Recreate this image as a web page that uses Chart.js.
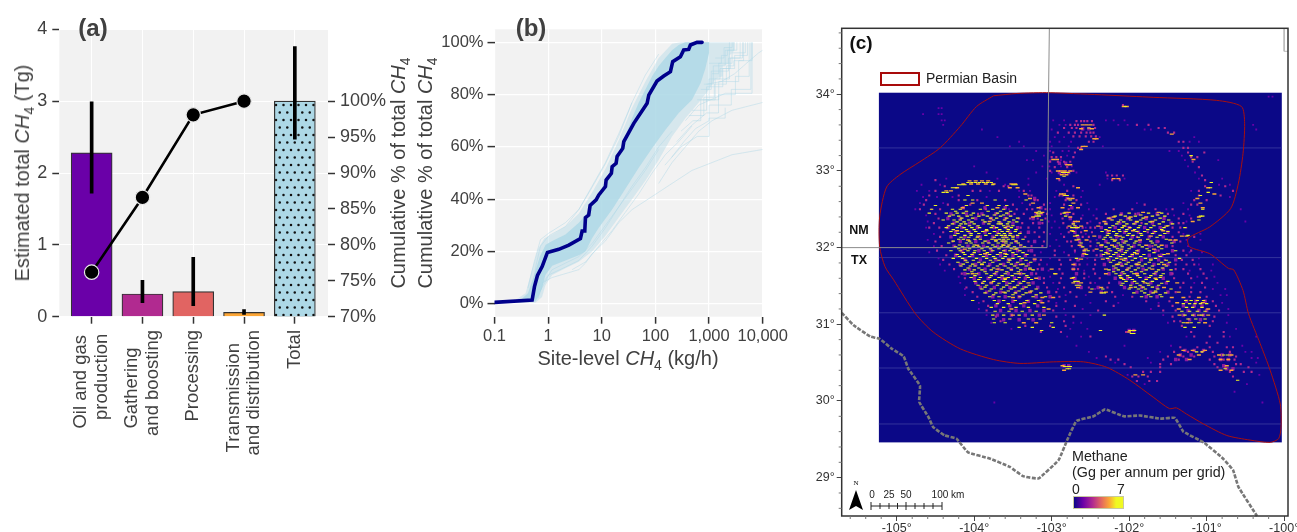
<!DOCTYPE html>
<html>
<head>
<meta charset="utf-8">
<title>Permian methane</title>
<script src="https://cdn.jsdelivr.net/npm/chart.js@4"></script>
<style>
  body { margin: 0; background: #fff; font-family: "Liberation Sans", Arial, sans-serif; }
  #page { position: relative; width: 1297px; height: 532px; overflow: hidden; }
  canvas { position: absolute; }
  .t { position: absolute; white-space: nowrap; line-height: 1; }
  .mid { transform: translate(-50%, -50%); }
  .up { transform: translate(-50%, -50%) rotate(-90deg); }
  sub { font-size: .7em; line-height: 0; }
  .ax { font-size: 20px; color: #404040; }
  .tag { font-weight: bold; color: #404040; }
</style>
</head>
<body>
<div id="page">
  <canvas id="chartA" width="400" height="470" style="left:0;top:0"></canvas>
  <canvas id="chartB" width="415" height="350" style="left:385px;top:0"></canvas>
  <canvas id="chartC" width="510" height="532" style="left:810px;top:0"></canvas>

  <div class="t tag mid" style="left:93px;top:28px;font-size:24px">(a)</div>
  <div class="t ax up" style="left:22px;top:173px">Estimated total <i>CH</i><sub>4</sub> (Tg)</div>
  <div class="t ax up" style="left:398px;top:173px">Cumulative % of total <i>CH</i><sub>4</sub></div>

  <div class="t tag mid" style="left:531px;top:28px;font-size:24px">(b)</div>
  <div class="t ax up" style="left:425px;top:173px">Cumulative % of total <i>CH</i><sub>4</sub></div>
  <div class="t ax mid" style="left:628px;top:358px">Site-level <i>CH</i><sub>4</sub> (kg/h)</div>

  <div class="t tag mid" style="left:861px;top:42px;font-size:19px;color:#111">(c)</div>
  <div style="position:absolute;left:880px;top:72px;width:36px;height:10px;border:2.5px solid #a80a0a"></div>
  <div class="t" style="left:926px;top:71px;font-size:14px;color:#222">Permian Basin</div>
  <div class="t tag mid" style="left:859px;top:230px;font-size:12.5px;color:#111">NM</div>
  <div class="t tag mid" style="left:859px;top:260px;font-size:12.5px;color:#111">TX</div>
  <div class="t" style="left:1072px;top:449px;font-size:14.3px;color:#222">Methane</div>
  <div class="t" style="left:1072px;top:465px;font-size:14.3px;color:#222">(Gg per annum per grid)</div>
  <div class="t mid" style="left:1076px;top:489px;font-size:14px;color:#222">0</div>
  <div class="t mid" style="left:1121px;top:489px;font-size:14px;color:#222">7</div>
  <div style="position:absolute;left:1073px;top:496px;width:49px;height:11px;border:1px solid #c8c8a0;background:linear-gradient(90deg,#0d0887 0%,#6a00a8 18%,#b12a90 38%,#e16462 55%,#fca636 72%,#f0f921 86%)"></div>

  <svg style="position:absolute;left:845px;top:478px" width="110" height="36">
    <path d="M11 12 L18 32 L11 28 L4 32 Z" fill="#000"/>
    <g stroke="#222" stroke-width="1" fill="none">
      <path d="M26 28 H97"/>
      <path d="M26 24V32 M35 25V31 M44 25V31 M52.500 25V31 M61 24V32 M70 25V31 M79 25V31 M88 25V31 M97 24V32"/>
    </g>
  </svg>
  <div class="t mid" style="left:856px;top:483px;font-size:7px;font-family:'Liberation Serif',serif">N</div>
  <div class="t mid" style="left:872px;top:495px;font-size:10px;color:#222">0</div>
  <div class="t mid" style="left:889px;top:495px;font-size:10px;color:#222">25</div>
  <div class="t mid" style="left:906px;top:495px;font-size:10px;color:#222">50</div>
  <div class="t mid" style="left:948px;top:495px;font-size:10px;color:#222">100 km</div>
</div>

<script>
// panel (a)
let categories = [["Oil and gas", "production"], ["Gathering", "and boosting"], ["Processing"], ["Transmission", "and distribution"], ["Total"]];
let categoryPos = [0, 1, 2, 3, 4];
let emissions = [2.28, 0.316, 0.348, 0.06, 3.0];
let errLow = [1.72, 0.195, 0.153, 0.03, 2.47];
let errHigh = [2.99, 0.506, 0.826, 0.1, 3.76];
let cumulative = [76.2, 86.6, 98.1, 100];
let leftTicks = [0, 1, 2, 3, 4];
let rightTicks = [70, 75, 80, 85, 90, 95, 100];
let barColors = ["#6a00a8", "#b12a90", "#e16462", "#fca636"];

// panel (b)
let siteTicks = [0.1, 1, 10, 100, 1000, 10000];
let pctTicks = [0, 20, 40, 60, 80, 100];
let mainX = [0.1, 0.503, 0.556, 0.632, 0.773, 0.97, 1.58, 2.43, 4.0, 4.3, 4.82, 4.96, 5.7, 6.06, 7.84, 8.8, 11.7, 12.05, 15.1, 15.6, 18.5, 19.3, 24.6, 25.7, 39.5, 70, 75.2, 107, 143, 190.5, 210, 292, 337, 417, 449, 597, 741];
let mainY = [0.5, 1.4, 6.5, 10.8, 14.2, 19.6, 20.8, 22.4, 24.9, 27.8, 27.8, 32.9, 33.9, 37.6, 39.7, 41.6, 44.8, 47.3, 49.9, 52.4, 53.7, 56.3, 59.4, 62, 69, 76.7, 79.8, 85.2, 87.1, 88.8, 92.6, 94.5, 97.1, 97.3, 99, 100, 100];
let bandCoreX = [0.1, 0.3, 0.42, 0.55, 0.7, 0.9, 1.19, 2.1, 3.73, 5, 6.6, 8.8, 11.7, 15.6, 20.7, 27.6, 36.7, 48.9, 65, 86.7, 115, 153, 204, 272, 362, 1000, 1000, 854, 700, 482, 272, 153, 86.7, 48.9, 27.6, 15.6, 8.8, 6.6, 4.96, 3.73, 2.1, 1.19, 0.89, 0.77, 0.67, 0.58, 0.3, 0.1];
let bandCoreY = [0.5, 1.2, 4, 11, 18, 22.5, 24, 26.5, 31, 34, 38, 42, 47, 52, 58, 64, 71, 77, 82, 87, 91, 94, 97, 99, 100, 100, 96, 90, 84.5, 78, 73, 66.5, 59.5, 52, 44, 36, 29, 25, 20, 18.5, 16.5, 14.5, 11, 6, 3, 0.8, 0.5, 0.5];
let bandMidX = [0.1, 0.25, 0.38, 0.5, 0.65, 0.85, 1.19, 2.1, 3.73, 6.6, 11.7, 20.7, 36.7, 65, 115, 204, 300, 3000, 3000, 2400, 2400, 1800, 1800, 1300, 1000, 642, 362, 204, 115, 65, 36.7, 20.7, 11.7, 6.6, 4.96, 3.73, 2.1, 1.19, 0.89, 0.77, 0.58, 0.3, 0.1];
let bandMidY = [0.5, 1.5, 4, 13, 21, 25, 26.5, 29.5, 34.5, 42.5, 51.5, 62.5, 75, 85, 94, 99.5, 100, 100, 97, 95, 92, 91, 87, 86, 82, 77, 71, 64, 55, 47, 40, 33, 26, 20, 18, 16, 13.5, 11, 7, 2.5, 0.3, 0.3, 0.5];
let traces = [
  [[1137, 1514, 1514, 2684, 2684, 4755, 4755], [88, 88, 92, 92, 96, 96, 100]],
  [[854, 1514, 1514, 3572, 3572, 6330, 6330], [78, 78, 85, 85, 93, 93, 100]],
  [[362, 642, 2015, 6330, 6330], [70, 76, 80.5, 80.5, 100]],
  [[482, 900, 900, 1800, 1800, 3000, 3000, 5200, 5200], [74, 74, 83, 83, 90, 90, 95, 95, 100]],
  [[700, 1100, 1100, 2300, 2300, 4200, 4200], [82, 82, 89, 89, 94, 94, 100]],
  [[300, 500, 700, 700, 1300, 1300, 2400, 2400], [66, 70, 70, 78, 78, 86, 86, 100]],
  [[1000, 1700, 1700, 2200, 2200, 3300, 3300], [92, 92, 95, 95, 97, 97, 100]],
  [[800, 1200, 1200, 2000, 2000, 2900, 2900], [84, 84, 91, 91, 97, 97, 100]],
  [[600, 1000, 1000, 1600, 1600, 2500, 2500, 3800, 3800], [78, 78, 86, 86, 90, 90, 94, 94, 100]],
  [[420, 800, 800, 1250, 1250, 2100, 2100, 2900, 2900, 4400, 4400], [72, 72, 79, 79, 84, 84, 91, 91, 93, 93, 100]],
  [[250, 460, 900, 1500, 1500, 3100, 3100, 5600, 5600], [62, 68, 73, 73, 80, 80, 87, 87, 100]],
  [[1300, 1900, 1900, 2700, 2700], [94, 94, 98, 98, 100]],
  [[200, 340, 560, 1000, 1000, 2600, 2600, 6000, 6000], [56, 62, 67, 70, 76, 76, 82, 82, 100]],
  [[0.65, 0.8, 1.19, 2.1, 3.73, 6.6, 11.7, 20.7, 36.7, 65, 115], [2, 8, 13, 15.5, 18, 23, 30, 37, 44, 51, 59]],
  [[0.5, 0.6, 0.72, 1.03, 2.1, 3.73, 6.6, 11.7, 20.7, 36.7], [5, 15, 22, 26, 29.5, 36, 45, 54, 65, 77]],
  [[0.42, 0.55, 0.72, 1.03, 2.1, 3.73, 6.6, 11.7, 20.7, 36.7, 65, 115], [6, 16, 24.5, 27, 31, 36, 44.5, 53.5, 64, 77, 87.5, 95.5]],
  [[0.72, 1.03, 2.1, 3.73, 6.6, 11.7, 20.7, 36.7, 65, 115, 204], [5, 11, 14, 16.5, 22, 29, 37, 45, 52, 60, 66]],
  [[2.8, 5, 8.8, 15.6, 27.6, 48.9, 86.7, 153, 272, 482], [13, 16, 22, 28, 35, 42, 50, 57, 62, 68]],
  [[0.77, 1.19, 3.73, 4.96, 6.6, 11.7, 20.7, 36.7, 86.7, 204, 482, 1137, 2684, 10000], [8, 10, 13, 15.5, 19, 24, 31, 36, 41, 46, 51, 54, 57, 59]],
  [[115, 204, 362, 642, 1137, 2684, 10000], [46, 54, 60, 66, 70, 74, 77]],
  [[900, 1700, 3000, 5000, 8420, 10000], [84, 85, 88, 92, 96, 97]],
  [[150, 300, 600, 1000, 1000, 2000, 2000], [53, 60, 64, 64, 71, 71, 75]]
];

// panel (c)
let lonTicks = [-105, -104, -103, -102, -101, -100];
let latTicks = [29, 30, 31, 32, 33, 34];
let lonMinor = [-105.6, -105.4, -105.2, -104.8, -104.6, -104.4, -104.2, -103.8, -103.6, -103.4, -103.2, -102.8, -102.6, -102.4, -102.2, -101.8, -101.6, -101.4, -101.2, -100.8, -100.6, -100.4, -100.2];
let latMinor = [28.6, 28.8, 29.2, 29.4, 29.6, 29.8, 30.2, 30.4, 30.6, 30.8, 31.2, 31.4, 31.6, 31.8, 32.2, 32.4, 32.6, 32.8, 33.2, 33.4, 33.6, 33.8, 34.2, 34.4, 34.6, 34.8];
let rasterLon = [-105.23, -100.03];
let rasterLat = [29.46, 34.02];
let seamLat = [33.3, 31.87, 31.15, 30.43, 29.7];
let basinLon = [-103.75, -103.45, -103.02, -101.69, -100.87, -100.55, -100.51, -100.53, -100.59, -100.69, -100.96, -101.24, -101.22, -100.96, -100.72, -100.65, -100.53, -100.46, -100.31, -100.18, -100.05, -100.04, -100.07, -100.18, -100.44, -100.74, -101.04, -101.26, -101.39, -101.48, -101.69, -101.99, -102.29, -102.59, -102.98, -103.41, -103.75, -104.18, -104.53, -104.76, -105.04, -105.15, -105.22, -105.22, -105.13, -104.96, -104.7, -104.44, -104.18, -103.97, -103.75];
let basinLat = [33.98, 34.01, 34.02, 33.96, 33.92, 33.84, 33.62, 33.23, 32.84, 32.51, 32.27, 32.12, 32.01, 31.92, 31.73, 31.71, 31.44, 31.14, 30.75, 30.4, 29.96, 29.66, 29.51, 29.46, 29.49, 29.55, 29.7, 29.83, 29.91, 29.9, 30.05, 30.27, 30.44, 30.51, 30.51, 30.49, 30.54, 30.68, 30.9, 31.14, 31.58, 31.75, 32.01, 32.4, 32.79, 32.95, 33.12, 33.3, 33.58, 33.84, 33.98];
let borderLon = [-105.71, -105.56, -105.34, -105.22, -105.06, -104.91, -104.85, -104.7, -104.71, -104.59, -104.53, -104.38, -104.23, -104.08, -103.8, -103.54, -103.37, -103.17, -102.91, -102.8, -102.68, -102.46, -102.31, -102.07, -101.86, -101.6, -101.41, -101.3, -101.04, -100.79, -100.66, -100.59, -100.35];
let borderLat = [31.15, 30.99, 30.84, 30.81, 30.68, 30.58, 30.42, 30.2, 29.99, 29.79, 29.66, 29.55, 29.51, 29.33, 29.25, 29.14, 29.02, 28.99, 29.23, 29.49, 29.74, 29.8, 29.89, 29.8, 29.81, 29.77, 29.78, 29.6, 29.46, 29.25, 29.1, 28.88, 28.5];
let stateLon = [-103.03, -103.04, -103.06, -105.71];
let stateLat = [34.86, 34.03, 32.0, 32.0];
let cornerLon = [-100.0, -100.0, -99.95];
let cornerLat = [34.86, 34.56, 34.56];

// methane cells, one row per latitude: [lat, lon, lon, ...]
let yellowRows = [
  [33.84, -102.05],
  [33.56, -102.52],
  [33.2, -101.2],
  [32.98, -102.86, -102.82, -102.79],
  [32.93, -102.84],
  [32.85, -104.08, -104.03, -103.98, -103.93, -103.88, -103.83, -103.78, -100.94],
  [32.82, -104.2, -104.16, -104.12, -103.76, -103.5, -103.46],
  [32.78, -104.28, -104.24, -100.95],
  [32.72, -104.4, -104.35, -100.98],
  [32.68, -104.08, -102.83, -102.8, -101.08],
  [32.62, -104.12, -104.02, -103.73, -102.76, -103.33],
  [32.55, -104.5, -104.1, -103.83, -103.68, -103.58, -102.76],
  [32.5, -104.55, -104.28, -104.18, -103.92, -103.76, -103.62, -101.05],
  [32.475, -104.24, -104.1, -103.82, -103.66, -103.53, -103.16],
  [32.45, -104.58, -104.36, -104.22, -104.14, -104.01, -103.7, -103.58, -103.18, -103.14, -102.84, -102.0, -101.75, -101.58],
  [32.425, -104.27, -104.04, -103.88, -103.74, -103.62, -103.17, -102.11, -101.85, -101.63],
  [32.41, -104.32, -104.2, -104.09, -103.94, -103.83, -103.66, -103.53, -103.2, -103.16, -102.82, -102.18, -102.05, -101.92, -101.7, -101.54, -101.08, -101.05],
  [32.385, -104.16, -104.02, -103.79, -103.71, -103.58, -103.44, -102.26, -102.0, -101.82, -101.6],
  [32.36, -104.4, -104.26, -104.18, -104.07, -103.89, -103.75, -103.61, -103.49, -103.13, -102.22, -102.11, -101.98, -101.85, -101.66, -101.49, -101.1],
  [32.335, -104.22, -104.13, -104.03, -103.86, -103.68, -103.55, -103.45, -102.14, -102.07, -101.9, -101.73, -101.56],
  [32.31, -104.28, -104.17, -104.11, -104.0, -103.81, -103.69, -103.65, -103.57, -102.72, -102.3, -102.16, -102.03, -101.94, -101.78, -101.61, -101.44],
  [32.285, -104.33, -104.19, -104.06, -103.95, -103.76, -103.62, -103.5, -102.7, -102.21, -102.07, -101.86, -101.68, -101.5],
  [32.26, -104.36, -104.22, -104.13, -104.03, -103.93, -103.78, -103.71, -103.6, -103.52, -102.74, -102.7, -102.66, -102.25, -102.09, -101.99, -101.88, -101.72, -101.55, -101.28],
  [32.235, -104.27, -104.1, -104.0, -103.84, -103.67, -103.56, -103.46, -102.3, -102.13, -102.03, -101.93, -101.76, -101.58],
  [32.21, -104.3, -104.16, -104.08, -103.98, -103.89, -103.74, -103.64, -103.57, -103.47, -102.72, -102.35, -102.2, -102.12, -102.04, -101.9, -101.8, -101.66, -101.5],
  [32.185, -104.21, -104.04, -103.94, -103.8, -103.68, -103.61, -103.53, -103.41, -102.26, -102.16, -102.0, -101.85, -101.7, -101.54],
  [32.16, -104.25, -104.12, -104.04, -103.85, -103.71, -103.65, -103.6, -103.54, -103.44, -102.67, -102.28, -102.17, -102.02, -101.95, -101.84, -101.6, -101.24],
  [32.135, -104.17, -104.07, -103.96, -103.74, -103.63, -103.58, -103.5, -102.31, -102.24, -102.08, -101.88, -101.64],
  [32.11, -104.2, -104.14, -103.99, -103.92, -103.77, -103.67, -103.62, -103.56, -103.5, -103.37, -102.65, -102.33, -102.22, -102.1, -101.98, -101.76, -101.52],
  [32.085, -104.27, -104.06, -103.86, -103.72, -103.64, -103.59, -103.46, -102.19, -102.04, -101.91, -101.72],
  [32.06, -104.33, -104.1, -104.04, -103.89, -103.81, -103.69, -103.59, -103.52, -103.43, -102.62, -102.4, -102.27, -102.14, -102.06, -101.93, -101.7, -101.45],
  [32.035, -104.19, -104.0, -103.76, -103.63, -103.55, -103.4, -102.35, -102.11, -102.01, -101.87, -101.66],
  [32.01, -104.24, -104.15, -104.01, -103.94, -103.83, -103.73, -103.65, -103.57, -103.48, -103.35, -102.6, -102.3, -102.19, -102.09, -101.97, -101.83, -101.62],
  [31.985, -104.2, -104.06, -103.9, -103.79, -103.68, -103.52, -103.45, -102.26, -102.15, -102.0, -101.77, -101.58],
  [31.96, -104.3, -104.18, -104.08, -103.99, -103.87, -103.76, -103.62, -103.54, -103.41, -102.58, -102.53, -102.36, -102.24, -102.13, -102.03, -101.9, -101.74, -101.4],
  [31.935, -104.14, -104.0, -103.83, -103.66, -103.5, -103.37, -102.3, -102.17, -102.05, -101.93, -101.68],
  [31.91, -104.22, -104.12, -104.03, -103.92, -103.8, -103.7, -103.58, -103.46, -103.32, -102.55, -102.33, -102.2, -102.08, -101.96, -101.81, -101.55],
  [31.885, -104.19, -104.06, -103.88, -103.75, -103.6, -103.42, -102.24, -102.11, -101.99, -101.85, -101.6],
  [31.86, -104.27, -104.15, -103.97, -103.84, -103.73, -103.63, -103.5, -103.38, -102.68, -102.28, -102.16, -102.05, -101.92, -101.79, -101.66, -101.35],
  [31.835, -104.11, -104.01, -103.79, -103.68, -103.54, -103.33, -102.2, -102.07, -101.96, -101.72, -101.52],
  [31.81, -104.21, -104.09, -103.94, -103.87, -103.76, -103.56, -103.44, -103.27, -102.24, -102.12, -102.01, -101.87, -101.74, -101.58, -101.48],
  [31.785, -104.14, -104.02, -103.9, -103.66, -103.52, -103.37, -102.14, -102.04, -101.91, -101.79, -101.62],
  [31.76, -104.17, -104.05, -103.99, -103.82, -103.7, -103.6, -103.48, -103.33, -102.2, -102.09, -101.97, -101.83, -101.7, -101.52],
  [31.735, -104.08, -103.94, -103.75, -103.56, -103.44, -103.28, -102.17, -102.0, -101.88, -101.74, -101.57],
  [31.71, -104.12, -104.0, -103.9, -103.78, -103.64, -103.52, -103.4, -103.24, -102.26, -102.14, -102.03, -101.92, -101.78, -101.62, -101.46],
  [31.685, -104.03, -103.86, -103.71, -103.58, -103.43, -102.2, -102.08, -101.97, -101.84, -101.65],
  [31.66, -104.08, -103.97, -103.84, -103.74, -103.6, -103.47, -103.36, -102.96, -102.17, -102.06, -101.94, -101.8, -101.68, -101.56],
  [31.635, -103.99, -103.78, -103.64, -103.51, -103.32, -102.12, -102.02, -101.89, -101.72, -101.59],
  [31.61, -104.04, -103.92, -103.8, -103.68, -103.56, -103.42, -103.3, -102.72, -102.11, -101.99, -101.86, -101.74, -101.6],
  [31.585, -103.94, -103.73, -103.6, -103.46, -103.26, -102.07, -101.96, -101.78, -101.65],
  [31.56, -103.99, -103.87, -103.75, -103.62, -103.5, -103.36, -102.7, -102.66, -102.04, -101.93, -101.82, -101.7, -101.5],
  [31.535, -103.89, -103.68, -103.54, -103.4, -102.08, -101.9, -101.76, -101.58],
  [31.51, -103.95, -103.84, -103.7, -103.58, -103.44, -103.29, -102.68, -102.64, -102.1, -101.98, -101.86, -101.75, -101.62],
  [31.485, -103.86, -103.62, -103.48, -103.33, -101.92, -101.82, -101.7],
  [31.46, -103.9, -103.78, -103.65, -103.52, -103.38, -103.2, -102.48, -102.34, -102.0, -101.88, -101.79, -101.63, -101.46],
  [31.435, -103.8, -103.56, -103.42, -103.26, -101.84, -101.66],
  [31.41, -103.86, -103.72, -103.6, -103.47, -103.33, -103.14, -102.36, -102.32, -101.94, -101.8, -101.69, -101.53],
  [31.385, -103.75, -103.5, -103.37, -103.2, -101.75, -101.6],
  [31.36, -103.8, -103.68, -103.55, -103.41, -103.24, -103.08, -101.84, -101.72, -101.58],
  [31.31, -104.02, -103.74, -103.62, -103.47, -103.32, -103.17, -101.27, -101.2, -101.12, -101.04],
  [31.27, -103.7, -103.56, -103.4, -103.22, -101.3, -101.22, -101.15, -101.08, -101.0],
  [31.22, -103.78, -103.62, -103.46, -103.3, -103.1, -101.26, -101.18, -101.06],
  [31.17, -103.73, -103.55, -103.38, -103.2, -101.32, -101.22, -101.12, -101.02],
  [31.12, -103.76, -103.62, -103.42, -103.25, -102.32, -101.28, -101.18, -101.06],
  [31.07, -103.75, -103.54, -103.3, -103.15, -101.24, -101.14, -101.02],
  [31.02, -103.74, -103.6, -103.0, -101.3, -101.2, -101.1],
  [30.96, -103.42, -103.25, -102.98, -101.28, -101.16],
  [30.92, -101.99, -101.96, -101.93, -103.13, -102.37],
  [30.88, -101.97, -101.94],
  [30.64, -101.13, -101.06],
  [30.6, -100.78, -100.73],
  [30.45, -102.83, -102.79, -102.76],
  [30.42, -102.8, -102.77, -100.76],
  [30.27, -100.6]
];
let orangeRows = [
  [33.84, -102.07, -102.03],
  [33.6, -102.6, -102.55, -102.5],
  [33.55, -102.62, -102.48],
  [33.48, -101.45],
  [33.42, -102.45, -102.42],
  [33.32, -102.6, -102.56],
  [33.28, -102.62],
  [33.15, -102.98, -102.93, -101.17],
  [33.08, -102.8, -102.76],
  [33.0, -102.92, -102.88, -102.83, -102.76],
  [32.95, -102.87, -102.81],
  [32.9, -102.2, -102.14, -102.92],
  [32.87, -104.06, -103.98, -103.9, -103.82],
  [32.83, -104.14, -104.04, -103.95, -103.85, -103.75, -103.52, -103.47],
  [32.78, -104.22, -103.54, -103.44, -102.66, -100.98],
  [32.74, -104.36, -104.3],
  [32.7, -103.34, -102.88, -102.84, -100.9],
  [32.64, -103.28, -102.78, -102.73, -101.12],
  [32.58, -103.24, -104.02, -103.9, -102.72, -101.08],
  [32.52, -103.17, -102.86, -102.66, -104.15, -103.7, -101.05],
  [32.46, -103.2, -103.12, -102.82, -102.78, -101.82, -101.62],
  [32.4, -103.24, -102.76, -102.2, -101.98, -101.78, -101.1],
  [32.34, -103.8, -102.7, -102.66, -102.32, -101.9, -101.7, -101.18],
  [32.28, -103.56, -102.77, -102.62, -102.4, -102.06, -101.52],
  [32.22, -104.22, -103.84, -102.74, -102.56, -102.26, -101.95, -101.56],
  [32.15, -103.95, -103.5, -102.7, -102.45, -102.12, -101.72, -101.32, -101.26],
  [32.1, -104.08, -103.72, -102.68, -102.55, -102.18, -101.86, -101.47, -101.4],
  [32.03, -103.96, -103.62, -102.64, -102.36, -102.22, -101.78, -101.58],
  [31.98, -104.12, -103.47, -102.56, -102.42, -102.1, -101.68],
  [31.92, -103.86, -103.6, -102.58, -102.27, -101.9, -101.5],
  [31.85, -103.55, -103.22, -102.62, -102.34, -102.1, -101.72],
  [31.78, -103.9, -103.4, -102.72, -102.16, -101.88, -101.55],
  [31.72, -103.7, -103.28, -103.0, -102.72, -102.3, -101.7],
  [31.66, -104.02, -103.42, -102.95, -102.3, -101.9],
  [31.6, -103.6, -103.2, -102.74, -102.1, -101.66],
  [31.54, -103.78, -103.3, -102.72, -102.62, -101.8, -101.38],
  [31.48, -103.48, -102.66, -102.36, -101.98, -101.55],
  [31.42, -103.62, -103.28, -102.5, -102.3, -101.66, -101.36],
  [31.35, -103.5, -103.12, -102.98, -101.45, -101.3, -101.1],
  [31.28, -103.35, -103.12, -101.38, -101.05],
  [31.2, -103.52, -103.04, -101.36, -100.98],
  [31.12, -103.5, -103.1, -101.35, -101.1, -100.98],
  [31.02, -103.36, -103.2, -101.25, -101.02],
  [30.9, -102.0],
  [30.66, -101.3, -101.18, -101.02],
  [30.6, -101.36, -101.1, -100.84, -100.68],
  [30.54, -101.22, -100.82, -100.72],
  [30.46, -102.86, -100.74],
  [30.4, -102.84, -100.82, -100.68],
  [30.34, -101.92, -101.82]
];
let magentaRows = [
  [33.86, -102.08],
  [33.65, -102.68, -102.62, -102.58, -102.54, -102.48],
  [33.6, -102.76, -102.7, -102.66, -102.46, -101.9, -101.75],
  [33.56, -102.84, -102.74, -102.68, -102.44, -101.62, -101.54],
  [33.5, -102.92, -102.78, -102.7, -102.62, -102.55, -102.5, -102.46, -101.5, -101.42],
  [33.45, -102.72, -102.64, -102.56, -102.49, -102.43],
  [33.38, -102.52, -102.46, -101.36, -101.3],
  [33.3, -102.66, -102.62, -101.3, -101.24],
  [33.24, -102.7, -102.98, -101.24, -101.03],
  [33.18, -103.0, -102.94, -102.88, -102.72, -101.2, -101.12],
  [33.12, -103.02, -102.92, -102.84, -102.76, -101.18],
  [33.05, -102.96, -102.8, -101.1],
  [33.0, -103.02, -102.72],
  [32.94, -102.28, -102.22, -102.16, -102.08, -101.06],
  [32.88, -104.5, -102.9, -102.22, -102.12, -101.02],
  [32.8, -104.38, -103.62, -103.56, -102.72, -101.02, -100.76],
  [32.74, -104.5, -104.02, -103.92, -103.68, -103.36, -102.8, -101.1, -100.66],
  [32.68, -104.58, -104.2, -103.3, -103.26, -102.9, -102.86, -102.72, -101.1, -100.82],
  [32.62, -104.62, -104.2, -103.96, -103.6, -103.22, -103.18, -102.82, -102.68, -101.16, -101.0],
  [32.56, -104.65, -104.34, -104.05, -103.5, -103.28, -103.1, -102.84, -102.62, -101.8, -101.2, -101.12],
  [32.5, -104.7, -104.44, -103.85, -103.45, -103.32, -103.25, -103.08, -102.78, -102.2, -101.96, -101.66, -101.44],
  [32.44, -104.5, -103.95, -103.48, -103.36, -103.06, -102.88, -102.72, -102.3, -102.1, -101.92, -101.5, -101.3],
  [32.38, -104.46, -103.42, -103.28, -103.18, -103.08, -102.86, -102.62, -102.42, -102.28, -102.0, -101.36, -101.2],
  [32.32, -104.52, -103.38, -103.24, -103.12, -102.85, -102.54, -102.38, -101.84, -101.36, -101.3],
  [32.26, -104.58, -104.45, -103.4, -103.3, -103.16, -102.8, -102.6, -102.5, -102.44, -101.44, -101.34],
  [32.2, -104.4, -103.4, -103.22, -103.1, -102.78, -102.62, -102.48, -101.76, -101.36],
  [32.14, -104.44, -103.34, -103.16, -102.84, -102.6, -102.52, -101.9, -101.44, -101.16],
  [32.08, -104.5, -104.28, -103.3, -103.1, -102.8, -102.75, -102.5, -101.62, -101.34],
  [32.02, -104.42, -103.26, -103.12, -102.74, -102.5, -101.7, -101.44],
  [31.96, -104.48, -103.3, -102.96, -102.7, -102.46, -101.62, -101.3, -101.2],
  [31.9, -104.36, -103.22, -102.96, -102.78, -102.42, -101.62, -101.4, -101.26],
  [31.84, -104.4, -103.14, -102.9, -102.76, -102.44, -101.54, -101.32, -101.18],
  [31.78, -104.32, -103.16, -102.88, -102.64, -102.44, -101.4, -101.26, -101.16],
  [31.72, -104.26, -103.18, -102.9, -102.66, -102.46, -101.4, -101.3, -101.08],
  [31.66, -104.16, -103.2, -102.86, -102.58, -102.44, -101.44, -101.24, -101.04],
  [31.6, -104.12, -103.1, -102.88, -102.58, -102.38, -101.42, -101.2, -101.0],
  [31.54, -103.9, -103.1, -102.9, -102.5, -102.26, -101.3, -101.06],
  [31.48, -104.1, -103.06, -102.84, -102.52, -102.28, -101.34, -101.2, -101.02],
  [31.42, -104.02, -102.94, -102.76, -102.22, -101.4, -101.2, -101.08],
  [31.36, -103.96, -102.9, -102.68, -102.18, -101.96, -101.22, -101.0],
  [31.3, -103.88, -103.04, -102.82, -102.3, -101.78, -101.48, -100.92],
  [31.24, -103.82, -102.94, -102.7, -102.2, -101.62, -101.44, -100.88],
  [31.18, -103.84, -102.98, -102.4, -101.56, -101.4, -100.84],
  [31.1, -103.72, -102.94, -102.72, -101.44, -100.9],
  [31.04, -103.66, -102.84, -101.42, -101.34, -100.92],
  [30.98, -103.34, -103.02, -102.82, -101.32, -100.96],
  [30.9, -103.14, -102.88, -102.04, -101.2, -100.78],
  [30.84, -102.5, -101.16, -100.96, -100.78],
  [30.76, -101.0, -100.86],
  [30.7, -101.34, -101.12, -100.96, -100.74, -100.66],
  [30.64, -101.42, -101.24, -101.06, -100.92, -100.7],
  [30.58, -102.3, -101.5, -101.3, -101.16, -100.9, -100.62],
  [30.54, -102.24, -102.14, -101.56, -101.36, -100.96, -100.78, -100.64],
  [30.48, -102.06, -101.6, -101.46, -100.9, -100.62, -100.56],
  [30.44, -101.98, -101.6, -100.86, -100.76, -100.46],
  [30.38, -101.82, -101.72, -101.6, -100.7, -100.52, -100.42],
  [30.32, -101.96, -101.88, -101.76, -100.66],
  [30.26, -101.9, -101.74, -101.64]
];
let purpleRows = [
  [33.97, -100.2, -100.15],
  [33.82, -104.46, -104.42],
  [33.74, -104.46, -104.42, -104.66],
  [33.66, -104.42, -104.38, -102.98, -102.84, -102.3, -102.2, -102.06],
  [33.6, -104.4, -102.9, -102.82, -102.14, -102.02, -100.4],
  [33.54, -103.9, -103.0, -102.6, -101.8, -101.72, -100.36],
  [33.44, -103.7, -102.96, -102.84, -102.38, -101.16],
  [33.38, -103.42, -103.02, -102.9, -102.75, -101.22, -101.1],
  [33.32, -103.54, -103.36, -103.0, -102.78, -102.34],
  [33.26, -103.2, -103.02, -102.86, -102.78, -101.48, -101.36],
  [33.2, -103.1, -102.8, -101.32],
  [33.14, -103.32, -103.24, -103.02, -102.88, -101.28, -100.85],
  [33.06, -104.0, -103.12, -103.03, -102.88, -102.74, -101.24],
  [32.98, -103.84, -103.2, -103.0, -102.68, -102.3, -101.15],
  [32.9, -104.36, -103.7, -103.3, -103.06, -102.28, -102.06, -101.1, -100.8],
  [32.82, -104.68, -104.44, -103.6, -103.3, -102.84, -102.38, -100.84, -100.7],
  [32.74, -104.74, -104.58, -103.8, -103.42, -103.28, -102.94, -102.6, -101.2],
  [32.66, -104.66, -104.48, -104.28, -103.84, -103.42, -102.96, -102.62, -100.7],
  [32.58, -104.7, -104.4, -103.38, -103.02, -102.54, -101.9, -101.3],
  [32.5, -104.76, -104.55, -103.55, -103.02, -102.52, -102.42, -101.52, -101.24, -100.56],
  [32.42, -104.62, -103.52, -103.0, -102.6, -102.46, -101.42, -101.22],
  [32.34, -104.6, -103.04, -102.96, -102.5, -101.26, -100.5],
  [32.26, -104.62, -103.0, -102.9, -102.56, -101.26],
  [32.18, -104.52, -103.02, -102.88, -102.56, -101.3, -101.08],
  [32.1, -104.6, -102.94, -102.42, -101.26, -101.08],
  [32.02, -104.52, -103.02, -102.9, -102.42, -101.24],
  [31.94, -104.58, -103.14, -102.84, -102.7, -101.22, -101.06],
  [31.86, -104.46, -103.02, -102.54, -101.1],
  [31.78, -104.44, -103.06, -102.54, -101.1, -100.92],
  [31.7, -104.38, -103.04, -102.58, -101.22, -100.94],
  [31.62, -104.2, -103.02, -102.52, -101.12, -100.9],
  [31.54, -104.18, -102.98, -102.44, -101.16, -100.86],
  [31.46, -104.12, -102.92, -102.44, -100.92, -100.76],
  [31.38, -104.12, -102.82, -102.56, -102.08, -100.82, -100.74],
  [31.28, -103.94, -102.94, -102.5, -102.14, -101.62, -100.8],
  [31.2, -103.94, -102.84, -102.6, -101.72, -100.72],
  [31.12, -103.84, -102.82, -102.5, -101.56, -100.72],
  [31.02, -103.78, -102.72, -102.62, -101.5, -100.74],
  [30.94, -103.52, -102.76, -102.54, -100.62],
  [30.84, -102.8, -102.62, -101.26, -100.7, -100.36],
  [30.72, -102.68, -102.06, -101.46, -100.54],
  [30.64, -102.52, -101.6, -100.5, -100.42],
  [30.56, -102.42, -101.76, -100.42, -100.34],
  [30.5, -102.18, -101.72, -100.36],
  [30.34, -102.02, -100.32],
  [30.22, -101.8, -100.48],
  [30.12, -100.64],
  [29.98, -103.74, -100.28]
];
// the warm haze under the two dense fields and the bright strands
let hazeRows = [
  [33.55, -102.6, -102.52],
  [33.1, -102.9, -102.82],
  [32.98, -102.9, -102.84, -102.78],
  [32.64, -103.22, -102.8],
  [32.52, -103.14, -102.74, -103.86, -103.6, -104.14],
  [32.44, -104.3, -104.1, -103.9, -103.72, -103.56, -103.2, -103.13, -102.8, -102.1, -101.88, -101.64],
  [32.38, -104.34, -104.18, -103.98, -103.78, -103.6, -103.24, -102.76, -102.24, -102.02, -101.78, -101.55],
  [32.32, -104.26, -104.06, -103.88, -103.66, -103.5, -103.16, -102.72, -102.3, -102.12, -101.92, -101.7, -101.46],
  [32.26, -104.34, -104.16, -103.96, -103.74, -103.58, -103.44, -102.68, -102.36, -102.18, -102.0, -101.8, -101.6],
  [32.2, -104.24, -104.06, -103.86, -103.7, -103.54, -103.3, -102.7, -102.28, -102.06, -101.88, -101.68, -101.5],
  [32.14, -104.3, -104.12, -103.92, -103.76, -103.6, -103.44, -102.66, -102.38, -102.16, -101.96, -101.74, -101.56],
  [32.08, -104.18, -103.98, -103.82, -103.62, -103.46, -103.22, -102.64, -102.3, -102.08, -101.86, -101.64, -101.42],
  [32.02, -104.26, -104.08, -103.88, -103.7, -103.56, -103.4, -102.62, -102.36, -102.16, -101.94, -101.74, -101.52],
  [31.96, -104.16, -103.94, -103.78, -103.6, -103.44, -103.26, -102.58, -102.28, -102.1, -101.88, -101.66, -101.44],
  [31.9, -104.24, -104.02, -103.84, -103.66, -103.5, -103.34, -102.6, -102.36, -102.14, -101.96, -101.74, -101.58],
  [31.84, -104.12, -103.92, -103.72, -103.56, -103.4, -103.22, -102.66, -102.26, -102.04, -101.84, -101.62, -101.4],
  [31.78, -104.18, -103.98, -103.8, -103.62, -103.46, -103.3, -102.7, -102.32, -102.1, -101.9, -101.68, -101.5],
  [31.72, -104.06, -103.86, -103.68, -103.52, -103.34, -103.12, -102.72, -102.2, -102.02, -101.82, -101.56],
  [31.66, -104.12, -103.94, -103.72, -103.56, -103.4, -103.26, -102.68, -102.26, -102.1, -101.9, -101.66, -101.46],
  [31.6, -104.0, -103.82, -103.64, -103.48, -103.34, -103.16, -102.7, -102.18, -102.02, -101.78, -101.56],
  [31.54, -103.98, -103.78, -103.58, -103.42, -103.24, -102.66, -102.12, -101.96, -101.72, -101.52],
  [31.48, -103.92, -103.74, -103.54, -103.36, -103.18, -102.62, -102.4, -102.06, -101.84, -101.64],
  [31.42, -103.84, -103.66, -103.46, -103.28, -103.04, -102.36, -101.9, -101.72, -101.5],
  [31.36, -103.76, -103.6, -103.42, -103.2, -103.02, -101.78, -101.64],
  [31.3, -103.68, -103.5, -103.3, -103.14, -101.26, -101.14, -101.02],
  [31.24, -103.72, -103.54, -103.36, -103.18, -101.3, -101.16, -101.06],
  [31.18, -103.66, -103.46, -103.28, -103.1, -101.24, -101.1, -101.0],
  [31.12, -103.7, -103.52, -103.34, -103.16, -101.3, -101.16, -101.04],
  [31.06, -103.62, -103.42, -103.24, -101.22, -101.08],
  [30.92, -102.0, -101.94],
  [30.66, -101.28, -101.16, -101.04],
  [30.6, -101.34, -101.2, -100.8, -100.7],
  [30.54, -101.4, -101.26, -100.82, -100.72],
  [30.46, -102.84, -102.78, -100.78],
  [30.42, -100.74, -100.66]
];

function rowsToPoints(rows) {
  return rows.flatMap((r) => r.slice(1).map((lon) => ({ x: lon, y: r[0] })));
}
function xyPoints(xs, ys) {
  return xs.map((x, i) => ({ x: x, y: ys[i] }));
}

// grey panel behind the plot
let panelBg = {
  id: "panelBg",
  beforeDraw(chart) {
    let a = chart.chartArea;
    chart.ctx.fillStyle = "#f2f2f2";
    chart.ctx.fillRect(a.left, a.top, a.right - a.left, a.bottom - a.top);
  },
};

// two-line category labels sit either side of the tick, which ticks can't do on their own
let categoryLabels = {
  id: "categoryLabels",
  afterDraw(chart) {
    let ctx = chart.ctx;
    let x = chart.scales.x;
    ctx.save();
    ctx.font = "18.5px 'Liberation Sans'";
    ctx.fillStyle = "#404040";
    ctx.textAlign = "center";
    ctx.textBaseline = "middle";
    categories.forEach((lines, i) => {
      let longest = Math.max(...lines.map((l) => ctx.measureText(l).width));
      lines.forEach((line, j) => {
        let shift = lines.length > 1 ? (j === 0 ? -10.3 : 10.3) : 0;
        let drop = lines.length > 1 && j === 0 ? 5 : 0;
        ctx.save();
        ctx.translate(x.getPixelForValue(categoryPos[i]) + shift, 330 + longest / 2 + drop);
        ctx.rotate(-Math.PI / 2);
        ctx.fillText(line, 0, 0);
        ctx.restore();
      });
    });
    ctx.restore();
  },
};

// dotted fill of the Total bar, tile is 15px so rows fall every 7.5px
function dotPattern() {
  let tile = document.createElement("canvas");
  tile.width = 15;
  tile.height = 15;
  let c = tile.getContext("2d");
  c.fillStyle = "#add8e6";
  c.fillRect(0, 0, 15, 15);
  c.fillStyle = "#111";
  [[6, 0], [13.5, 0], [6, 15], [13.5, 15], [2.25, 7.5], [9.75, 7.5]].forEach((d) => {
    c.beginPath();
    c.arc(d[0], d[1], 1.25, 0, Math.PI * 2);
    c.fill();
  });
  return chartA.getContext("2d").createPattern(tile, "repeat");
}

let tickFontA = { family: "Liberation Sans", size: 18 };
let tickFontB = { family: "Liberation Sans", size: 16.5 };

new Chart(document.getElementById("chartA"), {
  type: "bar",
  data: {
    datasets: [
      {
        type: "line",
        data: xyPoints(categoryPos.slice(0, 4), cumulative),
        yAxisID: "yRight",
        borderColor: "#000",
        borderWidth: 2.6,
        pointRadius: 7.2,
        pointBackgroundColor: "#000",
        pointBorderColor: "#e8e8e8",
        pointBorderWidth: 1.2,
        order: 0,
      },
      {
        data: categoryPos.map((x, i) => ({ x: x, y: [errLow[i], errHigh[i]] })),
        backgroundColor: "#000",
        barThickness: 3,
        grouped: false,
        order: 1,
      },
      {
        data: xyPoints(categoryPos, emissions),
        backgroundColor: barColors.concat([dotPattern()]),
        borderColor: "#333",
        borderWidth: 1.2,
        barThickness: 41,
        grouped: false,
        order: 2,
      },
    ],
  },
  options: {
    responsive: false,
    animation: false,
    layout: { padding: { top: 29.3 } },
    plugins: { legend: { display: false }, tooltip: { enabled: false } },
    scales: {
      x: {
        type: "linear",
        offset: false,
        min: -0.637,
        max: 4.653,
        afterBuildTicks(s) { s.ticks = categoryPos.map((v) => ({ value: v })); },
        afterFit(s) { s.height = 153.3; },
        border: { display: false },
        grid: { offset: false, color: "#fff", lineWidth: 1, tickColor: "#333", tickLength: 7, tickWidth: 1.5 },
        ticks: { display: false },
      },
      y: {
        min: 0,
        max: 4,
        afterBuildTicks(s) { s.ticks = leftTicks.map((v) => ({ value: v })); },
        afterFit(s) { s.width = 59.3; },
        border: { display: false },
        grid: { color: "#fff", lineWidth: 1, tickColor: "#333", tickLength: 7, tickWidth: 1.5 },
        ticks: { padding: 5, color: "#404040", font: tickFontA },
      },
      yRight: {
        position: "right",
        min: 70,
        max: 110,
        afterBuildTicks(s) { s.ticks = rightTicks.map((v) => ({ value: v })); },
        afterFit(s) { s.width = 72; },
        border: { display: false },
        grid: { drawOnChartArea: false, tickColor: "#333", tickLength: 7, tickWidth: 1.5 },
        ticks: { padding: 5, color: "#404040", font: tickFontA, callback: (v) => v + "%" },
      },
    },
  },
  plugins: [panelBg, categoryLabels],
});

let traceSets = traces.map((t) => ({
  data: xyPoints(t[0], t[1]),
  borderColor: "rgba(173,216,230,0.45)",
  borderWidth: 1,
  pointRadius: 0,
  order: 5,
}));

new Chart(document.getElementById("chartB"), {
  type: "line",
  data: {
    datasets: [
      {
        data: xyPoints(mainX, mainY),
        borderColor: "#00008b",
        borderWidth: 3.6,
        pointRadius: 0,
        borderCapStyle: "round",
        order: 0,
      },
      { data: xyPoints(bandCoreX, bandCoreY), fill: "shape", backgroundColor: "rgba(173,216,230,0.8)", borderWidth: 0, pointRadius: 0, order: 2 },
      { data: xyPoints(bandMidX, bandMidY), fill: "shape", backgroundColor: "rgba(173,216,230,0.4)", borderWidth: 0, pointRadius: 0, order: 3 },
    ].concat(traceSets),
  },
  options: {
    responsive: false,
    animation: false,
    layout: { padding: { top: 29.3, right: 37.3 } },
    plugins: { legend: { display: false }, tooltip: { enabled: false } },
    scales: {
      x: {
        type: "logarithmic",
        min: 0.1,
        max: 10000,
        afterBuildTicks(s) { s.ticks = siteTicks.map((v) => ({ value: v })); },
        afterFit(s) { s.height = 33.3; },
        border: { display: false },
        grid: { color: "#fff", lineWidth: 1.2, tickColor: "#333", tickLength: 7, tickWidth: 1.5 },
        ticks: {
          autoSkip: false,
          maxRotation: 0,
          padding: 3,
          color: "#404040",
          font: tickFontB,
          callback: (v) => v.toLocaleString("en-US"),
        },
      },
      y: {
        min: -5,
        max: 105,
        afterBuildTicks(s) { s.ticks = pctTicks.map((v) => ({ value: v })); },
        afterFit(s) { s.width = 109.5; },
        border: { display: false },
        grid: { color: "#fff", lineWidth: 1.2, tickColor: "#333", tickLength: 7, tickWidth: 1.5 },
        ticks: { padding: 4, color: "#404040", font: tickFontB, callback: (v) => v + "%" },
      },
    },
  },
  plugins: [panelBg],
});

// raster footprint, frame and the small minor ticks of the map
let mapExtras = {
  id: "mapExtras",
  beforeDatasetsDraw(chart) {
    let { x, y } = chart.scales;
    let ctx = chart.ctx;
    ctx.fillStyle = "#0b0887";
    ctx.fillRect(x.getPixelForValue(rasterLon[0]), y.getPixelForValue(rasterLat[1]),
      x.getPixelForValue(rasterLon[1]) - x.getPixelForValue(rasterLon[0]),
      y.getPixelForValue(rasterLat[0]) - y.getPixelForValue(rasterLat[1]));
  },
  afterDraw(chart) {
    let { x, y } = chart.scales;
    let a = chart.chartArea;
    let ctx = chart.ctx;
    ctx.strokeStyle = "#333";
    ctx.lineWidth = 1.5;
    ctx.strokeRect(a.left, a.top, a.right - a.left, a.bottom - a.top);
    ctx.strokeStyle = "#777";
    ctx.lineWidth = 1;
    ctx.beginPath();
    lonMinor.forEach((v) => {
      ctx.moveTo(x.getPixelForValue(v), a.bottom);
      ctx.lineTo(x.getPixelForValue(v), a.bottom + 3);
    });
    latMinor.forEach((v) => {
      ctx.moveTo(a.left, y.getPixelForValue(v));
      ctx.lineTo(a.left - 3, y.getPixelForValue(v));
    });
    ctx.stroke();
  },
};

let seamSets = seamLat.map((lat) => ({
  data: rasterLon.map((lon) => ({ x: lon, y: lat })),
  showLine: true,
  borderColor: "#33339c",
  borderWidth: 1,
  pointRadius: 0,
  order: 9,
}));

function streaks(rows, color, radius, width, order) {
  return { data: rowsToPoints(rows), pointStyle: "line", borderColor: color, pointRadius: radius, pointBorderWidth: width, order: order };
}
function cells(rows, color, radius, order) {
  return { data: rowsToPoints(rows), backgroundColor: color, pointStyle: "rect", pointRadius: radius, borderWidth: 0, order: order };
}

new Chart(document.getElementById("chartC"), {
  type: "scatter",
  data: {
    datasets: [
      { data: xyPoints(stateLon, stateLat), showLine: true, borderColor: "#8c8c8c", borderWidth: 1, pointRadius: 0, order: 0 },
      { data: xyPoints(cornerLon, cornerLat), showLine: true, borderColor: "#bbb", borderWidth: 1, pointRadius: 0, order: 0 },
      { data: xyPoints(borderLon, borderLat), showLine: true, borderColor: "#777", borderWidth: 2.6, borderDash: [4, 1.5], tension: 0.1, pointRadius: 0, clip: false, order: 1 },
      { data: xyPoints(basinLon, basinLat), showLine: true, borderColor: "#a80f0f", borderWidth: 1, tension: 0.25, pointRadius: 0, order: 2 },
      streaks(yellowRows, "#f0f921", 1.7, 1.1, 3),
      streaks(orangeRows, "#fca636", 2, 1.4, 4),
      cells(magentaRows, "#b12a90", 1.5, 5),
      cells(hazeRows, "#8a1aa0", 2.4, 6),
      cells(purpleRows, "#6a00a8", 1.3, 7),
    ].concat(seamSets),
  },
  options: {
    responsive: false,
    animation: false,
    layout: { padding: { top: 28.3, right: 32 } },
    plugins: { legend: { display: false }, tooltip: { enabled: false } },
    scales: {
      x: {
        min: -105.71,
        max: -99.95,
        afterBuildTicks(s) { s.ticks = lonTicks.map((v) => ({ value: v })); },
        afterFit(s) { s.height = 16; },
        border: { display: false },
        grid: { drawOnChartArea: false, tickColor: "#444", tickLength: 5 },
        ticks: {
          autoSkip: false,
          maxRotation: 0,
          padding: 0,
          color: "#333",
          font: { family: "Liberation Sans", size: 12.5 },
          callback: (v) => v + "°",
        },
      },
      y: {
        min: 28.5,
        max: 34.86,
        afterBuildTicks(s) { s.ticks = latTicks.map((v) => ({ value: v })); },
        afterFit(s) { s.width = 31.7; },
        border: { display: false },
        grid: { drawOnChartArea: false, tickColor: "#444", tickLength: 5 },
        ticks: { padding: 2, color: "#333", font: { family: "Liberation Sans", size: 12.5 }, callback: (v) => v + "°" },
      },
    },
  },
  plugins: [mapExtras],
});
</script>
</body>
</html>
